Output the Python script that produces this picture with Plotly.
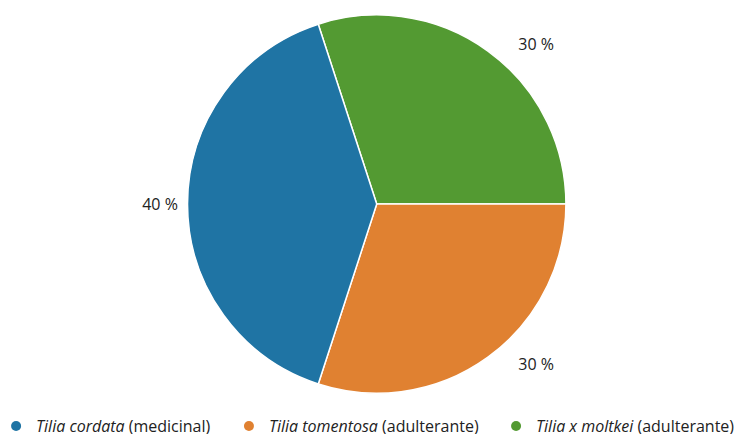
import plotly.graph_objects as go

# legend order
labels = ["<i>Tilia cordata</i> (medicinal)", "<i>Tilia tomentosa</i> (adulterante)", "<i>Tilia x moltkei</i> (adulterante)"]
values = [40, 30, 30]
colors = ["#1f74a4", "#e08131", "#539a32"]

# pie drawn clockwise starting with the last species
pie_order = [2, 1, 0]
pad = "\u00a0"
text_templates = [pad * 6 + "%{value} %", pad * 6 + "%{value} %", "%{value} %" + pad]

fig = go.Figure()
fig.add_trace(go.Pie(
    labels=[labels[i] for i in pie_order], values=[values[i] for i in pie_order],
    sort=False, direction="clockwise", rotation=-18,
    marker=dict(colors=[colors[i] for i in pie_order], line=dict(color="white", width=1.5)),
    texttemplate=text_templates, textposition="outside", showlegend=False,
    textfont=dict(size=16, color="#222"), hoverinfo="label+value",
    domain=dict(x=[0.0006, 0.9906], y=[0.051, 0.983])
))
legend_names = ["legend", "legend2", "legend3"]
legend_x = [-0.016, 0.297, 0.656]
for l, c, ln in zip(labels, colors, legend_names):
    fig.add_trace(go.Scatter(x=[None], y=[None], mode="markers", name=l, legend=ln,
                             marker=dict(symbol="circle", size=10, color=c)))
leg_common = dict(orientation="h", xref="paper", xanchor="left",
                  yref="paper", y=-0.03, yanchor="middle",
                  font=dict(size=16, color="#222"), itemwidth=30, bgcolor="rgba(0,0,0,0)")
fig.update_layout(
    width=744, height=434, margin=dict(l=0, r=0, t=0, b=28, autoexpand=False),
    paper_bgcolor="white", plot_bgcolor="white",
    font=dict(family="Open Sans", size=16, color="#222"),
    xaxis=dict(visible=False), yaxis=dict(visible=False),
    legend=dict(x=legend_x[0], **leg_common),
    legend2=dict(x=legend_x[1], **leg_common),
    legend3=dict(x=legend_x[2], **leg_common),
)
fig.write_html("out.html")
